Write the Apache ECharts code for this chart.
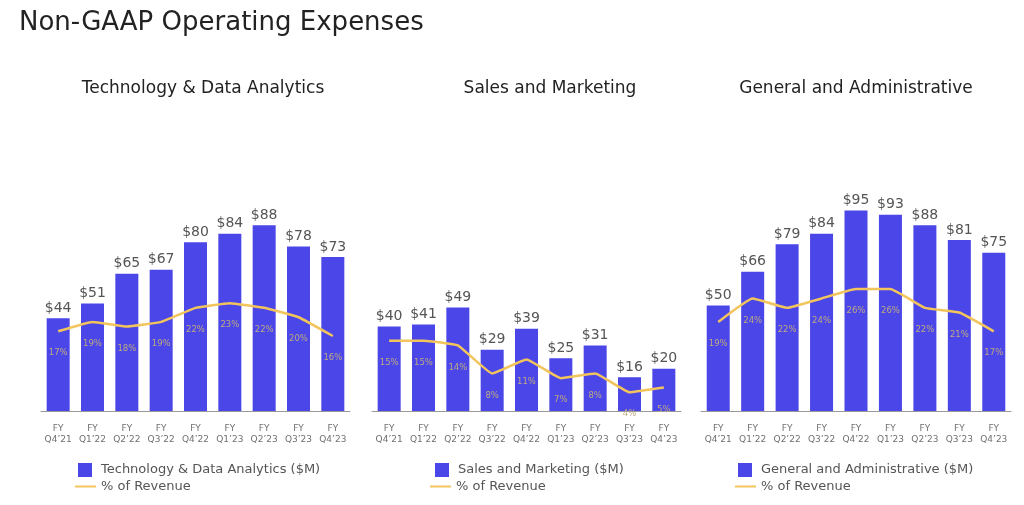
<!DOCTYPE html>
<html>
<head>
<meta charset="utf-8">
<script src="https://cdn.jsdelivr.net/npm/echarts@6/dist/echarts.min.js"></script>
<style>html,body{margin:0;padding:0;background:#fff;}#c{width:1024px;height:505px;}</style>
</head>
<body>
<div id="c"></div>
<script>
const categories = ['FY\nQ4\u201921','FY\nQ1\u201922','FY\nQ2\u201922','FY\nQ3\u201922','FY\nQ4\u201922','FY\nQ1\u201923','FY\nQ2\u201923','FY\nQ3\u201923','FY\nQ4\u201923'];
const techValues = [44, 51, 65, 67, 80, 84, 88, 78, 73];
const techPct = [17, 19, 18, 19, 22, 23, 22, 20, 16];
const salesValues = [40, 41, 49, 29, 39, 25, 31, 16, 20];
const salesPct = [15, 15, 14, 8, 11, 7, 8, 4, 5];
const gaValues = [50, 66, 79, 84, 95, 93, 88, 81, 75];
const gaPct = [19, 24, 22, 24, 26, 26, 22, 21, 17];
const panelTitles = ['Technology & Data Analytics', 'Sales and Marketing', 'General and Administrative'];
const barNames = ['Technology & Data Analytics ($M)', 'Sales and Marketing ($M)', 'General and Administrative ($M)'];
const lineName = '% of Revenue';

const FONT = 'DejaVu Sans';
const BAR_COLOR = '#4a46e8';
const LINE_COLOR = '#f2c45c';
const panels = [
  {left: 41, width: 309, title: 203, legendBar: 73, legendLine: 70},
  {left: 372, width: 309, title: 550, legendBar: 430, legendLine: 425},
  {left: 701, width: 310, title: 856, legendBar: 733, legendLine: 730}
];
const valueSets = [techValues, salesValues, gaValues];
const pctSets = [techPct, salesPct, gaPct];

const grid = [], xAxis = [], yAxis = [], series = [], legend = [], graphic = [];
graphic.push({type:'text', left: 19, top: 10, style:{text:'Non-GAAP Operating Expenses', font:'26px "'+FONT+'"', fill:'#222'}});
panels.forEach((p, i) => {
  grid.push({left: p.left, width: p.width, top: 200, height: 211});
  xAxis.push({type:'category', gridIndex:i, data: categories,
    axisLine:{lineStyle:{color:'#999', width:1}}, axisTick:{show:false},
    axisLabel:{fontFamily:FONT, fontSize:9, color:'#707070', lineHeight:11, margin:12, interval:0}});
  yAxis.push({type:'value', gridIndex:i, min:0, max:100, show:false, splitLine:{show:false}});
  yAxis.push({type:'value', gridIndex:i, min:0, max:45, show:false, splitLine:{show:false}});
  series.push({type:'bar', name: barNames[i], xAxisIndex:i, yAxisIndex:2*i, data: valueSets[i],
    barWidth: 23, itemStyle:{color: BAR_COLOR},
    label:{show:true, position:'top', distance:3, formatter:'${c}', fontFamily:FONT, fontSize:14, color:'#555'}});
  series.push({type:'line', name: lineName, xAxisIndex:i, yAxisIndex:2*i+1, data: pctSets[i],
    symbol:'circle', symbolSize:1, showSymbol:true, smooth:0.1,
    lineStyle:{color: LINE_COLOR, width:2.5}, itemStyle:{color: 'rgba(0,0,0,0)'},
    label:{show:true, position:'bottom', distance:17, formatter:'{c}%', fontFamily:FONT, fontSize:8.5, color:'#bfaa80'}, z:3});
  graphic.push({type:'text', x: p.title, y: 89, style:{text: panelTitles[i], font:'17px "'+FONT+'"', fill:'#222', align:'center', verticalAlign:'middle'}});
  legend.push({left: p.legendBar, top: 458, data:[{name: barNames[i], icon:'rect'}], itemWidth:14, itemHeight:14,
    textStyle:{fontFamily:FONT, fontSize:13, color:'#555', padding:[0,0,0,4]}, selectedMode:false});
  legend.push({left: p.legendLine, top: 475, data:[{name: lineName, icon:'rect', itemStyle:{color: LINE_COLOR}}], itemWidth:21, itemHeight:2,
    textStyle:{fontFamily:FONT, fontSize:13, color:'#555'}, selectedMode:false});
});

const chart = echarts.init(document.getElementById('c'), null, {renderer:'canvas'});
chart.setOption({animation:false, backgroundColor:'#fff', grid, xAxis, yAxis, series, legend, graphic});
</script>
</body>
</html>
